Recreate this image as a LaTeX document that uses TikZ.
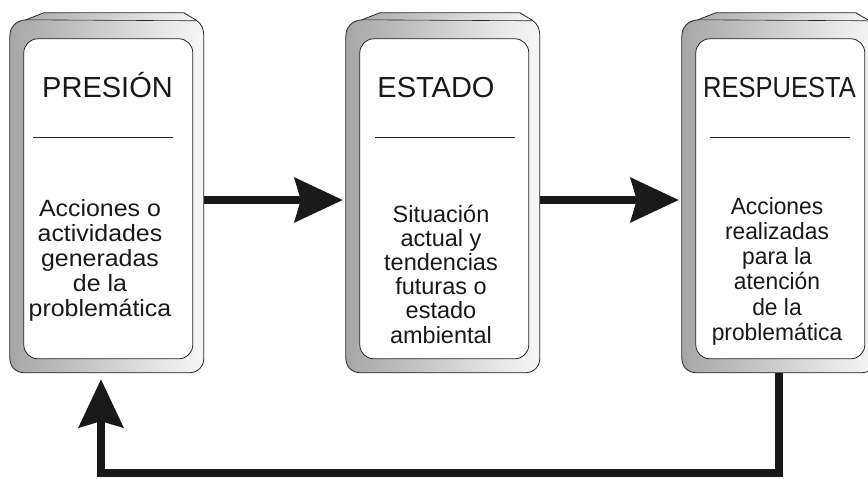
\documentclass[tikz,border=0pt]{standalone}
\usepackage{fontspec}
\setmainfont{Liberation Sans}
\usetikzlibrary{arrows.meta,calc}
\tikzset{
  boxarea/.style={minimum width=194pt, minimum height=360pt, inner sep=0pt, draw=none},
  frameline/.style={draw=black!85, line width=0.8pt},
  titletext/.style={font=\fontsize{29}{30}\selectfont, inner sep=0pt, text=black!90},
  bodytext/.style={font=\fontsize{23.5}{24}\selectfont, inner sep=0pt, text=black!90},
  rule/.style={draw=black!85, line width=0.7pt},
  arr/.style={draw=black!90, line width=8pt, -{Stealth[length=48pt,width=44pt,inset=6pt]}}
}
\newcommand\bevelframe[1]{%
\begin{scope}[shift={(#1.north west)}]
  \draw[frameline, left color=gray!70, right color=gray!6]
    (0,345) -- (0,24) .. controls (0,14) and (6,8) .. (16,7) -- (34,0) -- (174,0)
    -- (186,7) .. controls (192,11) and (194,16) .. (194,24) -- (194,345)
    .. controls (194,354) and (188,360) .. (179,360) -- (15,360)
    .. controls (6,360) and (0,354) .. (0,345) -- cycle;
  \draw[frameline, line width=0.6pt] (16,7) -- (186,8);
  \draw[frameline, fill=white, rounded corners=14pt] (14,26) rectangle (183,346);
\end{scope}}
\begin{document}
\begin{tikzpicture}[x=1pt, y=-1pt]
\clip (0,0) rectangle (868,479);
\fill[white] (0,0) rectangle (868,479);
% box areas
\node[boxarea] (b1) at (107,193) {};
\node[boxarea] (b2) at (443,193) {};
\node[boxarea] (b3) at (779,193) {};
\bevelframe{b1}
\bevelframe{b2}
\bevelframe{b3}
% titles
\node[titletext, anchor=base] (t1) at (107.5,97) {PRESIÓN};
\node[titletext, anchor=base] (t2) at (436,97) {ESTADO};
\node[titletext, anchor=base, xscale=0.88] (t3) at (779.5,97) {RESPUESTA};
% rules
\draw[rule] (33,137) -- (173,137);
\draw[rule] (375,137) -- (515,137);
\draw[rule] (710,137) -- (850,137);
% body texts
\node[bodytext, font=\fontsize{23.5}{25}\selectfont, anchor=base, xscale=1.06] (d1) at (100,216)
  {\begin{tabular}[t]{@{}c@{}}Acciones o\\actividades\\generadas\\de la\\problemática\end{tabular}};
\node[bodytext, anchor=base] (d2) at (441,222)
  {\begin{tabular}[t]{@{}c@{}}Situación\\actual y\\tendencias\\futuras o\\estado\\ambiental\end{tabular}};
\node[bodytext, font=\fontsize{23.5}{25.3}\selectfont, anchor=base, xscale=0.97] (d3) at (777,214)
  {\begin{tabular}[t]{@{}c@{}}Acciones\\realizadas\\para la\\atención\\de la\\problemática\end{tabular}};
% arrows
\draw[arr] ($(b1.east)+(0,7)$) -- ($(b2.west)+(-3,7)$);
\draw[arr] ($(b2.east)+(0,7)$) -- ($(b3.west)+(-3,7)$);
\draw[arr] (b3.south) -- ++(0,100) -| ($(b1.south)+(-6,6)$);
\end{tikzpicture}
\end{document}
